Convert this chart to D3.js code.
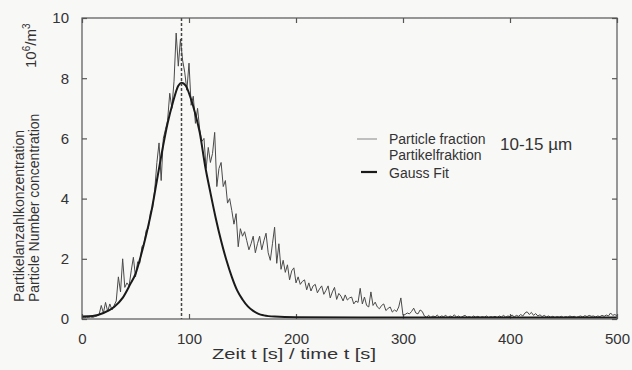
<!DOCTYPE html>
<html>
<head>
<meta charset="utf-8">
<script src="https://cdn.jsdelivr.net/npm/d3@7"></script>
<style>
  body { margin: 0; background: #f8f8f7; }
  svg { display: block; font-family: "Liberation Sans", Arial, sans-serif; }
</style>
</head>
<body>
<div id="chart"></div>
<script>
// Messreihe, alle 2 s ein Wert (10^6/m^3)
const sampleStep = 2;
const fractionValues = [
    0.05, 0.04, 0.06, 0.05, 0.07, 0.05, 0.08, 0.1, 0.15, 0.45,
    0.2, 0.55, 0.25, 0.5, 0.3, 0.45, 0.6, 1.4, 0.9, 2.0,
    1.05, 1.2, 1.1, 1.6, 2.05, 1.4, 1.9, 1.85, 2.4, 2.5,
    2.95, 3.0, 3.55, 3.7, 4.3, 5.2, 5.85, 4.6, 6.0, 6.3,
    6.6, 7.5, 7.0, 7.9, 9.5, 8.4, 9.3, 8.6, 8.2, 7.6,
    8.5, 7.1, 7.4, 6.5, 7.0, 6.3, 5.9, 6.0, 5.0, 5.7,
    5.2, 5.5, 6.2, 4.4, 5.0, 5.2, 4.4, 4.6, 3.85, 4.0,
    3.6, 3.15, 3.5, 2.4, 3.0, 2.75, 2.9, 2.6, 2.3, 2.5,
    2.75, 2.2, 2.5, 2.75, 2.3, 2.6, 2.85, 2.2, 1.95, 2.5,
    3.05, 1.85, 2.5, 1.65, 1.95, 1.55, 1.8, 1.3, 1.6, 1.7,
    1.2, 1.4, 1.15, 1.25, 1.3, 0.97, 1.2, 0.93, 1.1, 1.15,
    0.87, 1.0, 1.1, 0.82, 0.95, 1.1, 0.7, 0.9, 1.05, 0.65,
    0.85, 0.76, 0.6, 0.8, 0.63, 0.7, 0.73, 0.5, 0.6, 0.55,
    1.02, 0.5, 0.73, 0.45, 0.4, 0.9, 0.45, 0.56, 0.4, 0.34,
    0.45, 0.5, 0.28, 0.35, 0.4, 0.23, 0.3, 0.25, 0.4, 0.7,
    0.12, 0.15, 0.2, 0.17, 0.25, 0.36, 0.2, 0.17, 0.3, 0.25,
    0.1, 0.06, 0.12, 0.05, 0.1, 0.07, 0.13, 0.06, 0.1, 0.08,
    0.12, 0.05, 0.1, 0.07, 0.14, 0.06, 0.1, 0.05, 0.09, 0.12,
    0.06, 0.08, 0.05, 0.1, 0.06, 0.09, 0.05, 0.08, 0.06, 0.1,
    0.05, 0.08, 0.06, 0.09, 0.05, 0.1, 0.07, 0.12, 0.06, 0.1,
    0.08, 0.13, 0.07, 0.12, 0.09, 0.15, 0.1, 0.2, 0.24, 0.15,
    0.22, 0.12, 0.18, 0.1, 0.14, 0.08, 0.12, 0.07, 0.1, 0.06,
    0.09, 0.05, 0.08, 0.06, 0.09, 0.05, 0.08, 0.06, 0.1, 0.07,
    0.09, 0.05, 0.08, 0.1, 0.07, 0.11, 0.08, 0.12, 0.09, 0.1,
    0.07, 0.1, 0.08, 0.12, 0.09, 0.13, 0.1, 0.2, 0.12, 0.15,
    0.1
];

// Gauss Fit
const gaussTime = [0, 10, 20, 30, 38, 45, 50, 55, 60, 65, 70, 75, 80, 85, 90, 93, 97, 101, 106, 110,
    115, 120, 125, 130, 135, 140, 145, 150, 155, 160, 165, 170, 180, 200, 300, 500];
const gaussValue = [0.08, 0.1, 0.2, 0.4, 0.7, 1.15, 1.5, 2.1, 2.8, 3.6, 4.6, 5.6, 6.5, 7.2, 7.75, 7.85, 7.75, 7.4, 6.8, 6.2,
    5.1, 4.2, 3.35, 2.6, 1.95, 1.4, 0.95, 0.65, 0.42, 0.27, 0.17, 0.12, 0.08, 0.06, 0.05, 0.05];

const peakTime = 93;
const xTicks = [0, 100, 200, 300, 400, 500];
const yTicks = [0, 2, 4, 6, 8, 10];

const width = 632, height = 370;
const margin = {top: 18, right: 15, bottom: 51, left: 82};

const svg = d3.select("#chart").append("svg")
    .attr("width", width)
    .attr("height", height);

const x = d3.scaleLinear().domain([0, 500]).range([margin.left, width - margin.right]);
const y = d3.scaleLinear().domain([0, 10]).range([height - margin.bottom, margin.top]);

const textColor = "#333";
const frameColor = "#555";

// Achsen mit Ticks nach innen
function styleAxis(g) {
    g.select(".domain").remove();
    g.selectAll(".tick line").attr("stroke", frameColor).attr("stroke-width", 1.2);
    g.selectAll(".tick text").attr("fill", textColor).style("font-size", "15px");
}

svg.append("g")
    .attr("transform", `translate(0,${y(0)})`)
    .call(d3.axisBottom(x).tickValues(xTicks).tickSizeInner(-5).tickPadding(14))
    .call(styleAxis);

svg.append("g")
    .attr("transform", `translate(0,${y(10)})`)
    .call(d3.axisTop(x).tickValues(xTicks).tickSizeInner(-5).tickFormat(""))
    .call(styleAxis);

svg.append("g")
    .attr("transform", `translate(${x(0)},0)`)
    .call(d3.axisLeft(y).tickValues(yTicks).tickSizeInner(-5).tickPadding(13))
    .call(styleAxis);

svg.append("g")
    .attr("transform", `translate(${x(500)},0)`)
    .call(d3.axisRight(y).tickValues(yTicks).tickSizeInner(-5).tickFormat(""))
    .call(styleAxis);

// Messdaten
const fraction = fractionValues.map((v, i) => ({t: i * sampleStep, v: v}));
const gauss = gaussTime.map((t, i) => ({t: t, v: gaussValue[i]}));

svg.append("path")
    .datum(fraction)
    .attr("fill", "none")
    .attr("stroke", "#4a4a4a")
    .attr("stroke-width", 1)
    .attr("d", d3.line().x(d => x(d.t)).y(d => y(d.v)));

svg.append("path")
    .datum(gauss)
    .attr("fill", "none")
    .attr("stroke", "#1a1a1a")
    .attr("stroke-width", 2)
    .attr("d", d3.line().curve(d3.curveMonotoneX).x(d => x(d.t)).y(d => y(d.v)));

// Maximum
svg.append("line")
    .attr("x1", x(peakTime)).attr("x2", x(peakTime))
    .attr("y1", y(10)).attr("y2", y(0))
    .attr("stroke", "#444")
    .attr("stroke-width", 1.5)
    .attr("stroke-dasharray", "3,2");

// Rahmen
svg.append("rect")
    .attr("x", x(0)).attr("y", y(10))
    .attr("width", x(500) - x(0))
    .attr("height", y(0) - y(10))
    .attr("fill", "none")
    .attr("stroke", frameColor)
    .attr("stroke-width", 1.2);

// Achsentitel
svg.append("text")
    .attr("x", 212).attr("y", 359)
    .attr("fill", textColor)
    .attr("textLength", 164)
    .attr("lengthAdjust", "spacingAndGlyphs")
    .style("font-size", "15px")
    .text("Zeit t [s] / time t [s]");

svg.append("text")
    .attr("transform", "translate(24,302) rotate(-90)")
    .attr("fill", textColor)
    .style("font-size", "14px")
    .text("Partikelanzahlkonzentration");

svg.append("text")
    .attr("transform", "translate(39,302) rotate(-90)")
    .attr("fill", textColor)
    .style("font-size", "14px")
    .text("Particle Number concentration");

const unit = svg.append("text")
    .attr("transform", "translate(36,68) rotate(-90)")
    .attr("fill", textColor)
    .style("font-size", "15px");
unit.append("tspan").text("10");
unit.append("tspan").attr("dy", -6).style("font-size", "10px").text("6");
unit.append("tspan").attr("dy", 6).text("/m");
unit.append("tspan").attr("dy", -6).style("font-size", "10px").text("3");

// Legende
const legend = svg.append("g").style("font-size", "14px").attr("fill", textColor);

legend.append("line")
    .attr("x1", 357).attr("x2", 377).attr("y1", 139).attr("y2", 139)
    .attr("stroke", "#999").attr("stroke-width", 1.2);
legend.append("text").attr("x", 389).attr("y", 144).text("Particle fraction");
legend.append("text").attr("x", 389).attr("y", 160).text("Partikelfraktion");
legend.append("text").attr("x", 500).attr("y", 150).style("font-size", "17px").text("10-15 µm");

legend.append("line")
    .attr("x1", 361).attr("x2", 377).attr("y1", 172).attr("y2", 172)
    .attr("stroke", "#1a1a1a").attr("stroke-width", 2.2);
legend.append("text").attr("x", 389).attr("y", 178).text("Gauss Fit");
</script>
</body>
</html>
